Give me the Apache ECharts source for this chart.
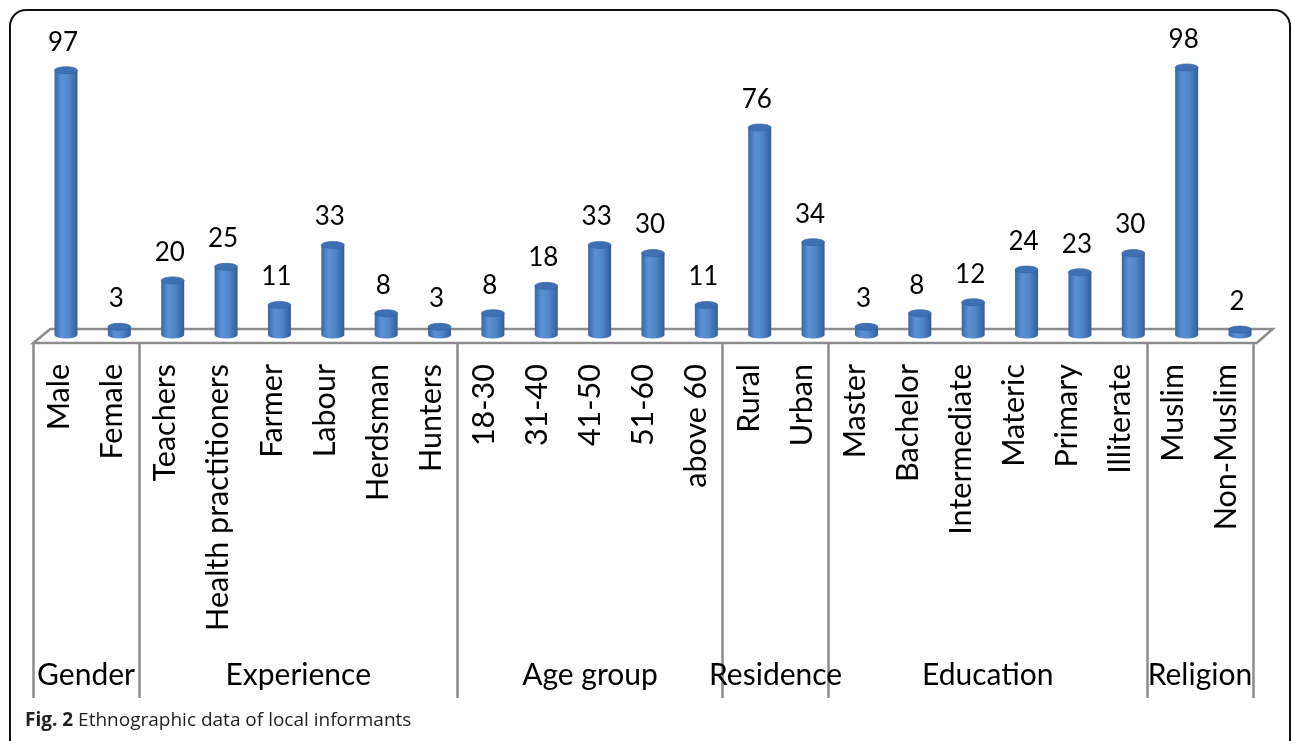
<!DOCTYPE html>
<html><head><meta charset="utf-8">
<script src="https://cdn.jsdelivr.net/npm/echarts@6/dist/echarts.min.js"></script>
<style>html,body{margin:0;padding:0;background:#fff}#c{width:1292px;height:741px}</style>
</head><body><div id="c"></div>
<script>
const categories = ['Male','Female','Teachers','Health practitioners','Farmer','Labour','Herdsman','Hunters','18-30','31-40','41-50','51-60','above 60','Rural','Urban','Master','Bachelor','Intermediate','Materic','Primary','Illiterate','Muslim','Non-Muslim'];
const values = [97,3,20,25,11,33,8,3,8,18,33,30,11,76,34,3,8,12,24,23,30,98,2];
const groupNames = ['Gender','Experience','Age group','Residence','Education','Religion'];
const groupSizes = [2,6,5,2,6,2];
const captionBold = 'Fig. 2';
const captionText = 'Ethnographic data of local informants';

const bounds = [0]; groupSizes.forEach(s => bounds.push(bounds[bounds.length-1] + s));
const centers = groupSizes.map((s, i) => bounds[i] + s / 2);

const FONT = 'Lato, "Open Sans", sans-serif';
const chart = echarts.init(document.getElementById('c'));

function cylinder(params, api) {
  const idx = api.value(0), v = api.value(1);
  const top = api.coord([idx, v]);
  const base = api.coord([idx, 0]);
  const rx = 11.5, ry = 3.5, cx = top[0];
  const grad = new echarts.graphic.LinearGradient(0, 0, 1, 0, [
    {offset: 0, color: '#3a66a3'}, {offset: 0.3, color: '#5b91d5'},
    {offset: 0.6, color: '#5087ca'}, {offset: 1, color: '#345e98'}]);
  return {type: 'group', children: [
    {type: 'circle', x: cx, y: base[1], scaleY: ry / rx, shape: {cx: 0, cy: 0, r: rx}, style: {fill: grad}},
    {type: 'rect', shape: {x: cx - rx, y: top[1], width: rx * 2, height: base[1] - top[1]}, style: {fill: grad}},
    {type: 'circle', x: cx, y: top[1], scaleY: ry / rx, shape: {cx: 0, cy: 0, r: rx}, style: {fill: '#3f70b4', stroke: '#32609e', lineWidth: 1}},
    {type: 'text', style: {text: String(v), x: cx - 3, y: top[1] - 28, align: 'center', verticalAlign: 'middle', fontSize: 26, fontFamily: FONT, fill: '#000'}}
  ]};
}

function floor(params, api) {
  const cs = params.coordSys;
  const y0 = cs.y + cs.height, x0 = cs.x, x1 = cs.x + cs.width;
  return {type: 'polygon', shape: {points: [[x0 - 6, y0 + 8], [x0 + 11, y0 - 6], [x1 + 6, y0 - 6], [x1 - 10, y0 + 8]]},
    style: {fill: '#fff', stroke: '#8c8c8c', lineWidth: 2.5}};
}

chart.setOption({
  animation: false,
  grid: [
    {left: 39.3, width: 1227.4, top: 62, height: 273, outerBoundsMode: 'none'},
    {left: 33, width: 1220, top: 62, height: 281, outerBoundsMode: 'none'},
    {left: 33, width: 1220, top: 62, height: 281, outerBoundsMode: 'none'}
  ],
  xAxis: [
    {gridIndex: 0, type: 'category', data: categories, show: false},
    {gridIndex: 1, type: 'category', data: categories, position: 'bottom',
      axisLine: {show: false}, axisTick: {show: false},
      axisLabel: {rotate: 90, margin: 21, interval: 0, fontSize: 30.5, fontFamily: FONT, color: '#000'}},
    {gridIndex: 2, type: 'value', min: 0, max: 23, position: 'bottom',
      axisLine: {show: false}, splitLine: {show: false},
      axisTick: {show: true, customValues: bounds, length: 355, lineStyle: {color: '#8c8c8c', width: 2.5}},
      axisLabel: {customValues: centers, margin: 317, fontSize: 30, fontFamily: FONT, color: '#000',
        formatter: val => { let k = 0; centers.forEach((c, i) => { if (Math.abs(c - val) < Math.abs(centers[k] - val)) k = i; }); return groupNames[k]; }}}
  ],
  yAxis: [
    {gridIndex: 0, type: 'value', min: 0, max: 100, show: false},
    {gridIndex: 1, type: 'value', show: false},
    {gridIndex: 2, type: 'value', show: false}
  ],
  series: [
    {type: 'custom', xAxisIndex: 0, yAxisIndex: 0, z: 1, silent: true, renderItem: floor, data: [[0, 0]], clip: false},
    {type: 'custom', xAxisIndex: 0, yAxisIndex: 0, z: 2, renderItem: cylinder, clip: false,
      data: values.map((v, i) => [i, v]), encode: {x: 0, y: 1}}
  ],
  graphic: [
    {type: 'rect', shape: {x: 10, y: 10, width: 1280, height: 800, r: 16}, style: {fill: 'none', stroke: '#111', lineWidth: 2}, z: 0},
    {type: 'text', left: 25, top: 711, style: {text: '{b|' + captionBold + '} ' + captionText,
      fontFamily: '"Open Sans", sans-serif', fontSize: 19, fill: '#231f20',
      rich: {b: {fontWeight: 'bold', fontFamily: '"Open Sans", sans-serif', fontSize: 19, fill: '#231f20'}}}}
  ]
});
</script></body></html>
